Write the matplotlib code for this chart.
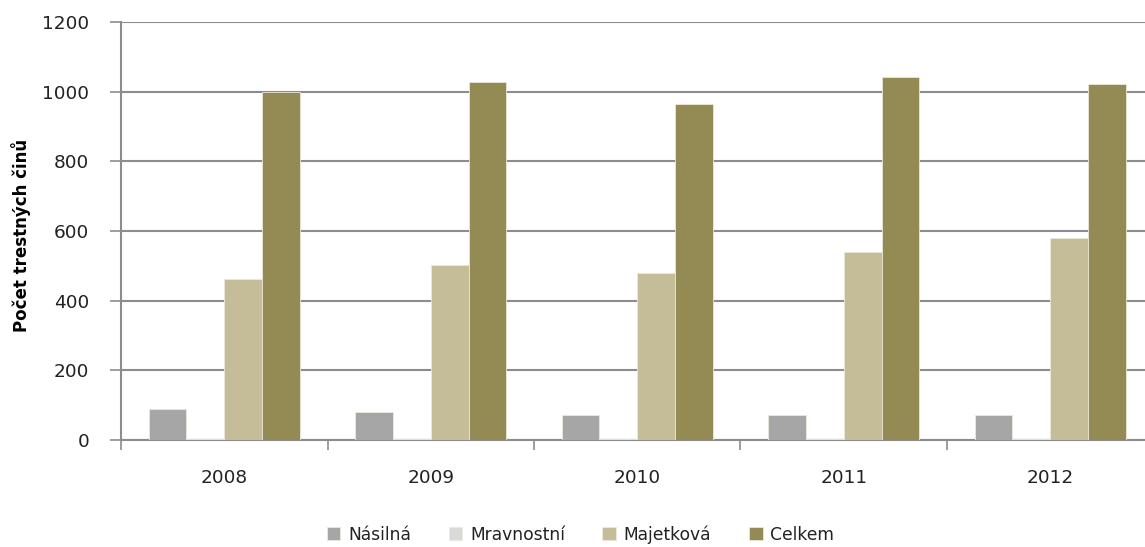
import numpy as np
import matplotlib
matplotlib.use("Agg")
import matplotlib.pyplot as plt
from matplotlib.ticker import FixedLocator, MultipleLocator

# Data
years = ["2008", "2009", "2010", "2011", "2012"]
series_names = ["Násilná", "Mravnostní", "Majetková", "Celkem"]
nasilna = [88, 81, 72, 72, 71]
mravnostni = [4, 4, 4, 4, 4]
majetkova = [463, 502, 478, 539, 579]
celkem = [1000, 1027, 966, 1041, 1021]

colors = ["#a6a6a6", "#d9d9d9", "#c4bd97", "#948a54"]
grid_color = "#8c8c8c"

plt.rcParams['font.family'] = ['DejaVu Sans']

fig = plt.figure(figsize=(11.45, 5.47), dpi=100)
ax = fig.add_axes([0.1057, 0.1956, 0.9017, 0.7642])

x = np.arange(len(years))
width = 0.183
all_series = [nasilna, mravnostni, majetkova, celkem]
for i, (name, vals) in enumerate(zip(series_names, all_series)):
    offset = (i - 1.5) * width
    ax.bar(x + offset, vals, width, color=colors[i], label=name,
           edgecolor="#ece9dc", linewidth=0.6, zorder=3)

# Axes limits and ticks
ax.set_ylim(0, 1200)
ax.set_xlim(-0.5, len(years) - 0.5)
ax.yaxis.set_major_locator(MultipleLocator(200))
ax.set_xticks(x)
ax.set_xticklabels(years)
ax.xaxis.set_minor_locator(FixedLocator(np.arange(-0.5, len(years), 1.0)))
ax.tick_params(axis="x", which="major", length=0, pad=21, labelsize=13.3,
               labelcolor="#222222")
ax.tick_params(axis="x", which="minor", length=7, width=1.2, color=grid_color)
ax.tick_params(axis="y", length=8, width=1.2, color=grid_color, pad=15,
               labelsize=13.3, labelcolor="#222222")

# Grid and spines
ax.grid(axis="y", color=grid_color, linewidth=1.5, zorder=0)
for side in ["top", "right"]:
    ax.spines[side].set_visible(False)
for side in ["left", "bottom"]:
    ax.spines[side].set_color(grid_color)
    ax.spines[side].set_linewidth(1.5)

# Y label placed in figure coordinates so it stays inside the picture
fig.text(0.0185, 0.57, "Počet trestných činů", rotation=90, fontsize=12,
         fontweight="bold", ha="center", va="center")

# Legend at the bottom
fig.legend(loc="lower center", bbox_to_anchor=(0.507, -0.022), ncol=4,
           frameon=False, fontsize=12.3, handlelength=0.8, handleheight=0.8,
           handletextpad=0.45, columnspacing=2.2, labelcolor="#222222")

fig.savefig("out.png", dpi=100)
